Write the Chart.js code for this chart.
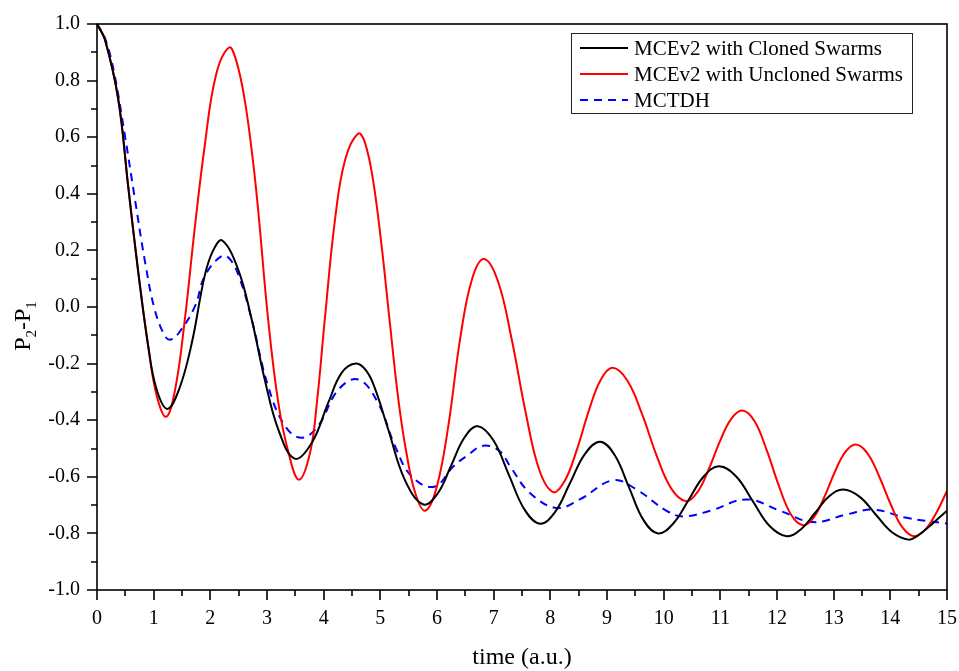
<!DOCTYPE html>
<html>
<head>
<meta charset="utf-8">
<script src="https://cdn.jsdelivr.net/npm/chart.js@4/dist/chart.umd.min.js"></script>
<style>
  html, body { margin: 0; padding: 0; background: #fff; }
</style>
</head>
<body>
<canvas id="chart" width="959" height="671"></canvas>
<script>
// P2-P1 vs time
const clonedTime = [0, 0.14, 0.376, 0.55, 0.73, 0.905, 1.05, 1.24, 1.45, 1.67, 1.9, 2.05, 2.21, 2.49, 2.73, 2.96, 3.2, 3.49, 3.79, 4.08, 4.32, 4.57, 4.75, 4.9, 5.14, 5.43, 5.76, 6.015, 6.25, 6.485, 6.72, 6.995, 7.27, 7.545, 7.82, 8.085, 8.35, 8.615, 8.88, 9.135, 9.39, 9.645, 9.9, 10.17, 10.44, 10.71, 10.98, 11.28, 11.575, 11.87, 12.17, 12.42, 12.67, 12.92, 13.17, 13.46, 13.745, 14.03, 14.32, 14.49, 14.66, 14.83, 15];
const clonedValues = [1.0, 0.945, 0.733, 0.427, 0.12, -0.14, -0.29, -0.36, -0.29, -0.13, 0.11, 0.2, 0.235, 0.133, -0.044, -0.256, -0.433, -0.536, -0.48, -0.339, -0.232, -0.2, -0.225, -0.285, -0.433, -0.61, -0.698, -0.658, -0.56, -0.461, -0.421, -0.471, -0.594, -0.716, -0.766, -0.724, -0.621, -0.518, -0.476, -0.523, -0.638, -0.753, -0.8, -0.765, -0.682, -0.598, -0.563, -0.599, -0.687, -0.774, -0.81, -0.786, -0.728, -0.669, -0.645, -0.671, -0.734, -0.796, -0.822, -0.807, -0.78, -0.75, -0.72];

const unclonedTime = [0, 0.14, 0.376, 0.55, 0.73, 0.905, 1.05, 1.22, 1.38, 1.55, 1.72, 1.9, 2.1, 2.33, 2.45, 2.6, 2.75, 2.85, 3.02, 3.2, 3.38, 3.565, 3.76, 3.88, 4.02, 4.2, 4.38, 4.61, 4.73, 4.87, 5.02, 5.17, 5.32, 5.46, 5.62, 5.79, 5.99, 6.2, 6.41, 6.62, 6.83, 7.074, 7.318, 7.562, 7.806, 8.05, 8.26, 8.47, 8.68, 8.89, 9.1, 9.358, 9.616, 9.874, 10.132, 10.39, 10.59, 10.79, 10.99, 11.19, 11.39, 11.604, 11.818, 12.032, 12.246, 12.46, 12.646, 12.832, 13.018, 13.204, 13.39, 13.596, 13.802, 14.008, 14.214, 14.42, 14.62, 14.82, 15];
const unclonedValues = [1.0, 0.945, 0.733, 0.427, 0.12, -0.14, -0.31, -0.388, -0.29, -0.044, 0.27, 0.568, 0.82, 0.917, 0.875, 0.74, 0.52, 0.33, -0.044, -0.339, -0.515, -0.61, -0.515, -0.339, -0.044, 0.309, 0.521, 0.613, 0.58, 0.45, 0.22, -0.06, -0.33, -0.515, -0.66, -0.72, -0.64, -0.42, -0.11, 0.1, 0.17, 0.092, -0.114, -0.37, -0.576, -0.654, -0.612, -0.503, -0.366, -0.257, -0.215, -0.26, -0.377, -0.524, -0.641, -0.686, -0.656, -0.576, -0.476, -0.396, -0.366, -0.404, -0.506, -0.631, -0.733, -0.771, -0.744, -0.673, -0.584, -0.513, -0.486, -0.517, -0.598, -0.698, -0.779, -0.81, -0.786, -0.724, -0.65];

const mctdhTime = [0, 0.14, 0.3, 0.494, 0.67, 0.85, 1.02, 1.2, 1.3, 1.45, 1.73, 1.9, 2.2, 2.35, 2.52, 2.73, 3.02, 3.32, 3.61, 3.9, 4.26, 4.61, 4.96, 5.26, 5.55, 5.95, 6.29, 6.52, 6.82, 7.11, 7.29, 7.64, 8.11, 8.52, 9.11, 9.52, 10.05, 10.34, 10.82, 11.47, 12.05, 12.64, 13.23, 13.7, 14.29, 15];
const mctdhValues = [1.0, 0.95, 0.83, 0.604, 0.38, 0.157, -0.01, -0.103, -0.115, -0.09, 0.003, 0.109, 0.18, 0.168, 0.1, -0.044, -0.28, -0.421, -0.462, -0.421, -0.292, -0.256, -0.339, -0.492, -0.598, -0.635, -0.563, -0.527, -0.49, -0.51, -0.563, -0.657, -0.71, -0.68, -0.612, -0.645, -0.72, -0.74, -0.72, -0.68, -0.72, -0.76, -0.733, -0.716, -0.745, -0.765];

const seriesLabels = ['MCEv2 with Cloned Swarms', 'MCEv2 with Uncloned Swarms', 'MCTDH'];
const xTitle = 'time (a.u.)';

const serif = "'Liberation Serif', 'Times New Roman', serif";
const pairs = (xs, ys) => xs.map((t, i) => ({ x: t, y: ys[i] }));

// frame, minor ticks, axis titles and the boxed legend
const decor = {
  id: 'decor',
  afterDraw(chart) {
    const { ctx, chartArea: a, scales: { x, y } } = chart;
    ctx.save();
    ctx.strokeStyle = '#000';
    ctx.lineWidth = 1.6;
    ctx.strokeRect(a.left, a.top, a.right - a.left, a.bottom - a.top);

    ctx.beginPath();
    for (let i = 0; i <= 30; i++) {
      const px = Math.round(x.getPixelForValue(i * 0.5));
      const len = i % 2 ? 6 : 10;
      ctx.moveTo(px, a.bottom); ctx.lineTo(px, a.bottom + len);
    }
    for (let i = 0; i <= 20; i++) {
      const py = Math.round(y.getPixelForValue(-1 + i * 0.1));
      const len = i % 2 ? 6 : 10;
      ctx.moveTo(a.left, py); ctx.lineTo(a.left - len, py);
    }
    ctx.stroke();

    ctx.fillStyle = '#000';
    ctx.font = '24px ' + serif;
    ctx.textAlign = 'center';
    ctx.textBaseline = 'alphabetic';
    ctx.fillText(xTitle, (a.left + a.right) / 2, 664);

    // y title: P2-P1 with subscripts
    const parts = [['P', 24, 0], ['2', 15, 6], ['-P', 24, 0], ['1', 15, 6]];
    let total = 0;
    parts.forEach(p => { ctx.font = p[1] + 'px ' + serif; total += ctx.measureText(p[0]).width; });
    ctx.translate(30, 326);
    ctx.rotate(-Math.PI / 2);
    ctx.textAlign = 'left';
    let cx = -total / 2;
    parts.forEach(p => {
      ctx.font = p[1] + 'px ' + serif;
      ctx.fillText(p[0], cx, p[2]);
      cx += ctx.measureText(p[0]).width;
    });
    ctx.setTransform(1, 0, 0, 1, 0, 0);

    // legend box
    ctx.lineWidth = 1;
    ctx.strokeStyle = '#222';
    ctx.strokeRect(571.5, 33.5, 341, 80);
    ctx.font = '21px ' + serif;
    ctx.textBaseline = 'middle';
    const rows = [48, 74, 100];
    chart.data.datasets.forEach((ds, i) => {
      ctx.beginPath();
      ctx.strokeStyle = ds.borderColor;
      ctx.lineWidth = 2;
      ctx.setLineDash(ds.borderDash || []);
      ctx.moveTo(580, rows[i]); ctx.lineTo(628, rows[i]);
      ctx.stroke();
      ctx.setLineDash([]);
      ctx.fillText(ds.label, 634, rows[i] + 1);
    });
    ctx.restore();
  }
};

new Chart(document.getElementById('chart'), {
  type: 'line',
  data: {
    datasets: [
      { label: seriesLabels[0], data: pairs(clonedTime, clonedValues), borderColor: '#000000', borderWidth: 2 },
      { label: seriesLabels[1], data: pairs(unclonedTime, unclonedValues), borderColor: '#ff0000', borderWidth: 2 },
      { label: seriesLabels[2], data: pairs(mctdhTime, mctdhValues), borderColor: '#0000ff', borderWidth: 2, borderDash: [8, 6] }
    ]
  },
  options: {
    responsive: false,
    animation: false,
    events: [],
    layout: { padding: { top: 24, right: 12, left: 0, bottom: 0 } },
    elements: { point: { radius: 0 }, line: { tension: 0.4, fill: false } },
    scales: {
      x: {
        type: 'linear', min: 0, max: 15,
        grid: { display: false, drawTicks: false },
        border: { display: false },
        ticks: { stepSize: 1, padding: 17, color: '#000', font: { family: serif, size: 20 }, maxRotation: 0 },
        afterFit: s => { s.height = 81; s.paddingLeft = 0; s.paddingRight = 0; }
      },
      y: {
        min: -1, max: 1,
        grid: { display: false, drawTicks: false },
        border: { display: false },
        ticks: { stepSize: 0.2, padding: 17, color: '#000', font: { family: serif, size: 20 }, callback: v => v.toFixed(1) },
        afterFit: s => { s.width = 97; s.paddingTop = 0; s.paddingBottom = 0; }
      }
    },
    plugins: { legend: { display: false }, tooltip: { enabled: false } }
  },
  plugins: [decor]
});
</script>
</body>
</html>
